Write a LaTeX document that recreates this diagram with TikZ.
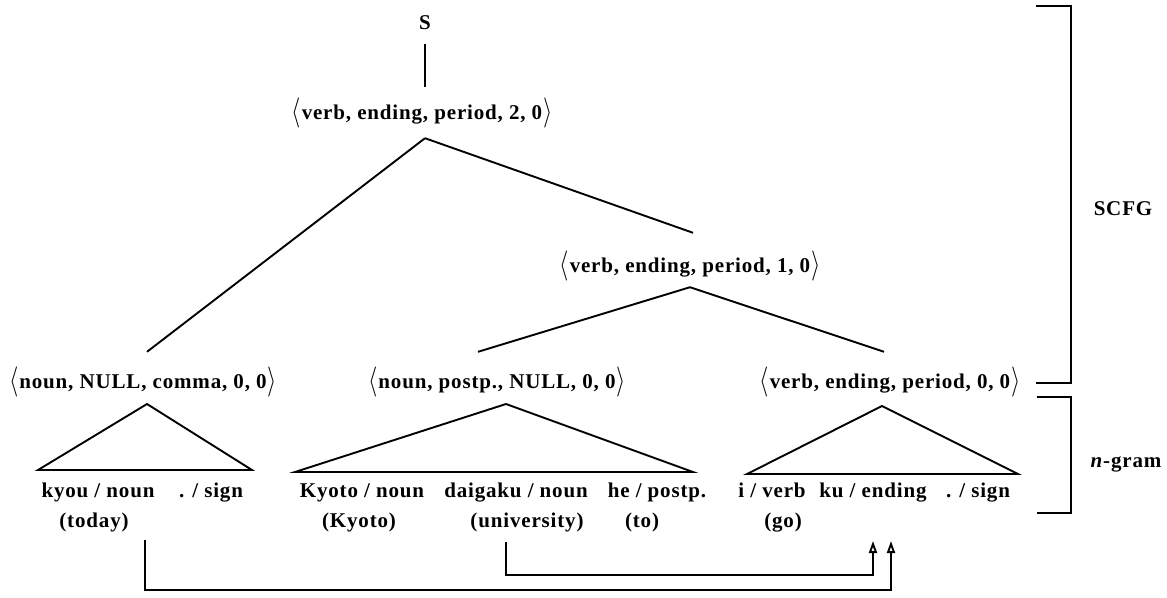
\documentclass[tikz,border=0pt]{standalone}
\usepackage{graphicx}
\usepackage{fontspec}
\setmainfont{Liberation Serif}
\newfontfamily\lblfont[LetterSpace=4]{Liberation Serif}
\usetikzlibrary{arrows.meta}
\newcommand{\lang}{\raisebox{-0.2ex}{\scalebox{1.15}[1.45]{$\langle$}}\kern1pt}
\newcommand{\rang}{\kern1pt\raisebox{-0.2ex}{\scalebox{1.15}[1.45]{$\rangle$}}}
\begin{document}
\begin{tikzpicture}[x=1pt,y=-1pt,
  lbl/.style={font=\lblfont\fontsize{21}{25}\selectfont\bfseries, inner sep=0pt, text height=14pt, text depth=4pt},
  ln/.style={line width=1.9pt},
  arr/.style={line width=1.9pt, -{Triangle[open,length=12pt,width=8pt]}}]
\useasboundingbox (0,0) rectangle (1167,597);
% tree nodes
\node[lbl] (S) at (425,24) {S};
\node[lbl] (top) at (422,114) {\lang verb, ending, period, 2, 0\rang};
\node[lbl] (mid) at (690,267) {\lang verb, ending, period, 1, 0\rang};
\node[lbl] (L) at (143,383) {\lang noun, NULL, comma, 0, 0\rang};
\node[lbl] (M) at (497,383) {\lang noun, postp., NULL, 0, 0\rang};
\node[lbl] (R) at (890,383) {\lang verb, ending, period, 0, 0\rang};
% connectors
\draw[ln] ([yshift=-11pt]S.south) -- ([xshift=3pt,yshift=18pt]top.north);
\draw[ln] ([xshift=3pt,yshift=-15pt]top.south) -- ([xshift=4pt,yshift=22pt]L.north);
\draw[ln] ([xshift=3pt,yshift=-15pt]top.south) -- ([xshift=3pt,yshift=25pt]mid.north);
\draw[ln] ([yshift=-11pt]mid.south) -- ([xshift=-19pt,yshift=22pt]M.north);
\draw[ln] ([yshift=-11pt]mid.south) -- ([xshift=-6pt,yshift=22pt]R.north);
% triangles
\draw[ln, line join=miter] (147,404) -- (252,470) -- (38,470) -- cycle;
\draw[ln, line join=miter] (506,404) -- (693,472) -- (295,472) -- cycle;
\draw[ln, line join=miter] (882,406) -- (1018,474) -- (747,474) -- cycle;
% words
\node[lbl] (w1) at (98,492) {kyou / noun};
\node[lbl] (w2) at (211,492) {. / sign};
\node[lbl] (w3) at (362,492) {Kyoto / noun};
\node[lbl] (w4) at (516,492) {daigaku / noun};
\node[lbl] (w5) at (657,492) {he / postp.};
\node[lbl] (w6) at (772,492) {i / verb};
\node[lbl] (w7) at (873,492) {ku / ending};
\node[lbl] (w8) at (978,492) {. / sign};
% glosses
\node[lbl] (g1) at (94,522) {(today)};
\node[lbl] (g3) at (359,522) {(Kyoto)};
\node[lbl] (g4) at (527,522) {(university)};
\node[lbl] (g5) at (642,522) {(to)};
\node[lbl] (g6) at (783,522) {(go)};
% arrows
\coordinate (Lfoot) at (145,540);
\coordinate (Mfoot) at (506,542);
\coordinate (Rtip1) at (873,541);
\coordinate (Rtip2) at (891,541);
\draw[arr] (Mfoot) |- (Rtip1 |- 0,575) -- (Rtip1);
\draw[arr] (Lfoot) |- (Rtip2 |- 0,590) -- (Rtip2);
% brackets
\draw[ln] (1036,6) -- (1071,6) -- (1071,383) -- (1036,383);
\draw[ln] (1037,397) -- (1071,397) -- (1071,513) -- (1037,513);
\node[lbl] (scfg) at (1123,210) {SCFG};
\node[lbl] (ngram) at (1126,462) {\textit{n}-gram};
\end{tikzpicture}
\end{document}
